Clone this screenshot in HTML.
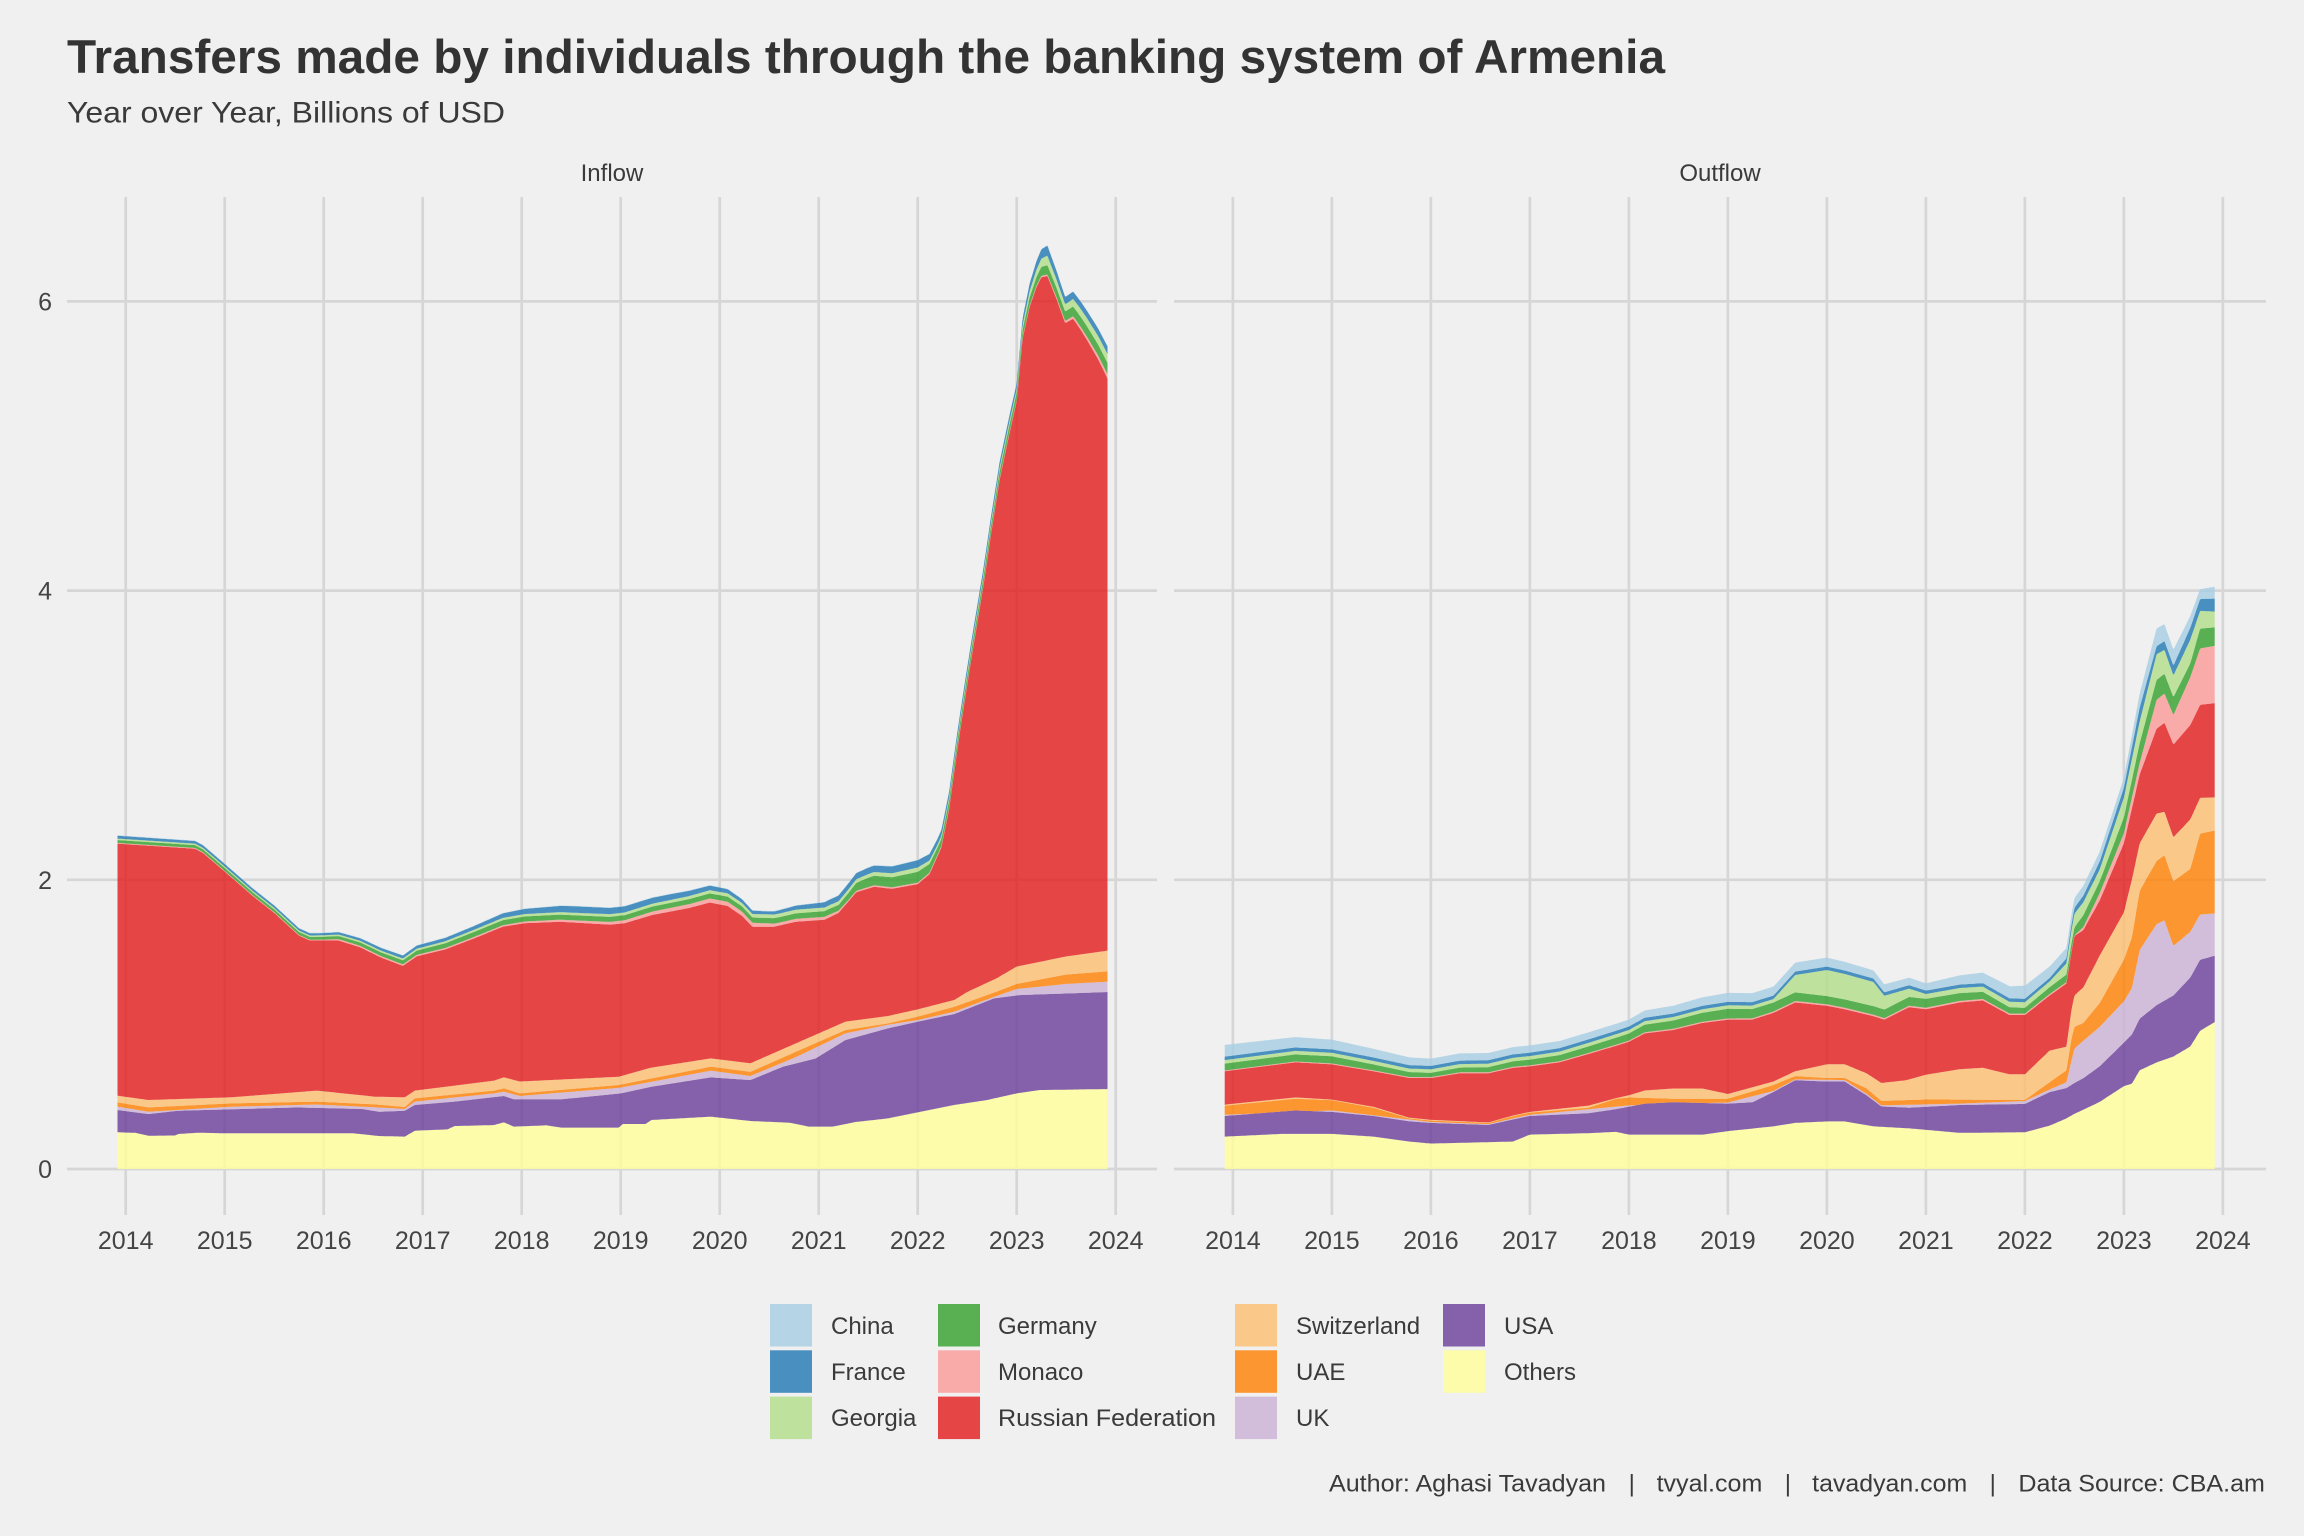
<!DOCTYPE html>
<html><head><meta charset="utf-8">
<style>html,body{margin:0;padding:0;background:#f0f0f0;}svg{display:block}</style>
</head><body>
<svg id="c" xmlns="http://www.w3.org/2000/svg" width="2304" height="1536" viewBox="0 0 2304 1536">
<rect width="2304" height="1536" fill="#f0f0f0"/>
<g stroke="#d6d6d6" stroke-width="2.7" fill="none">
<line x1="67" y1="1169" x2="1157" y2="1169"/><line x1="67" y1="879.8" x2="1157" y2="879.8"/><line x1="67" y1="590.6" x2="1157" y2="590.6"/><line x1="67" y1="301.4" x2="1157" y2="301.4"/>
<line x1="1174" y1="1169" x2="2266" y2="1169"/><line x1="1174" y1="879.8" x2="2266" y2="879.8"/><line x1="1174" y1="590.6" x2="2266" y2="590.6"/><line x1="1174" y1="301.4" x2="2266" y2="301.4"/>
<line x1="125.7" y1="197" x2="125.7" y2="1215"/><line x1="224.7" y1="197" x2="224.7" y2="1215"/><line x1="323.7" y1="197" x2="323.7" y2="1215"/><line x1="422.7" y1="197" x2="422.7" y2="1215"/><line x1="521.7" y1="197" x2="521.7" y2="1215"/><line x1="620.7" y1="197" x2="620.7" y2="1215"/><line x1="719.7" y1="197" x2="719.7" y2="1215"/><line x1="818.7" y1="197" x2="818.7" y2="1215"/><line x1="917.7" y1="197" x2="917.7" y2="1215"/><line x1="1016.7" y1="197" x2="1016.7" y2="1215"/><line x1="1115.7" y1="197" x2="1115.7" y2="1215"/>
<line x1="1232.9" y1="197" x2="1232.9" y2="1215"/><line x1="1331.9" y1="197" x2="1331.9" y2="1215"/><line x1="1430.9" y1="197" x2="1430.9" y2="1215"/><line x1="1529.9" y1="197" x2="1529.9" y2="1215"/><line x1="1628.9" y1="197" x2="1628.9" y2="1215"/><line x1="1727.9" y1="197" x2="1727.9" y2="1215"/><line x1="1826.9" y1="197" x2="1826.9" y2="1215"/><line x1="1925.9" y1="197" x2="1925.9" y2="1215"/><line x1="2024.9" y1="197" x2="2024.9" y2="1215"/><line x1="2123.9" y1="197" x2="2123.9" y2="1215"/><line x1="2222.9" y1="197" x2="2222.9" y2="1215"/>
</g>
<g id="areasL"></g>
<g id="areasR"></g>
<g font-family="Liberation Sans, Arial, sans-serif" fill="#333333">
<text x="67" y="73" font-size="47" font-weight="bold" textLength="1598" lengthAdjust="spacingAndGlyphs">Transfers made by individuals through the banking system of Armenia</text>
<text x="67" y="122.5" font-size="29.5" fill="#3a3a3a" textLength="438" lengthAdjust="spacingAndGlyphs">Year over Year, Billions of USD</text>
<text x="612" y="181" font-size="24" text-anchor="middle" fill="#3a3a3a">Inflow</text>
<text x="1720" y="181" font-size="24" text-anchor="middle" fill="#3a3a3a">Outflow</text>
<g font-size="25" text-anchor="end" fill="#444">
<text x="52" y="1178">0</text><text x="52" y="888.8">2</text><text x="52" y="599.6">4</text><text x="52" y="310.4">6</text>
</g>
<g font-size="25" text-anchor="middle" fill="#444">
<text x="125.7" y="1249">2014</text><text x="224.7" y="1249">2015</text><text x="323.7" y="1249">2016</text><text x="422.7" y="1249">2017</text><text x="521.7" y="1249">2018</text><text x="620.7" y="1249">2019</text><text x="719.7" y="1249">2020</text><text x="818.7" y="1249">2021</text><text x="917.7" y="1249">2022</text><text x="1016.7" y="1249">2023</text><text x="1115.7" y="1249">2024</text>
<text x="1232.9" y="1249">2014</text><text x="1331.9" y="1249">2015</text><text x="1430.9" y="1249">2016</text><text x="1529.9" y="1249">2017</text><text x="1628.9" y="1249">2018</text><text x="1727.9" y="1249">2019</text><text x="1826.9" y="1249">2020</text><text x="1925.9" y="1249">2021</text><text x="2024.9" y="1249">2022</text><text x="2123.9" y="1249">2023</text><text x="2222.9" y="1249">2024</text>
</g>
<g>
<rect x="770" y="1304" width="42" height="42.5" fill="#B5D5E6"/>
<rect x="770" y="1350.3" width="42" height="42.5" fill="#4990C0"/>
<rect x="770" y="1396.6" width="42" height="42.5" fill="#BEE29E"/>
<rect x="938" y="1304" width="42" height="42.5" fill="#59B053"/>
<rect x="938" y="1350.3" width="42" height="42.5" fill="#F9ABAA"/>
<rect x="938" y="1396.6" width="42" height="42.5" fill="#E64546"/>
<rect x="1235" y="1304" width="42" height="42.5" fill="#FAC989"/>
<rect x="1235" y="1350.3" width="42" height="42.5" fill="#FC9630"/>
<rect x="1235" y="1396.6" width="42" height="42.5" fill="#D2BEDB"/>
<rect x="1443" y="1304" width="42" height="42.5" fill="#8561AB"/>
<rect x="1443" y="1350.3" width="42" height="42.5" fill="#FCFCAA"/>
</g>
<g font-size="24" fill="#3a3a3a">
<text x="831" y="1334">China</text><text x="831" y="1380">France</text><text x="831" y="1426">Georgia</text>
<text x="998" y="1334">Germany</text><text x="998" y="1380">Monaco</text><text x="998" y="1426" textLength="218" lengthAdjust="spacingAndGlyphs">Russian Federation</text>
<text x="1296" y="1334">Switzerland</text><text x="1296" y="1380">UAE</text><text x="1296" y="1426">UK</text>
<text x="1504" y="1334">USA</text><text x="1504" y="1380">Others</text>
</g>
<g font-size="24" fill="#3a3a3a">
<text x="1329" y="1491.5" textLength="277" lengthAdjust="spacingAndGlyphs">Author: Aghasi Tavadyan</text>
<text x="1631.7" y="1491.5" text-anchor="middle">|</text>
<text x="1656.6" y="1491.5" textLength="105.7" lengthAdjust="spacingAndGlyphs">tvyal.com</text>
<text x="1787.9" y="1491.5" text-anchor="middle">|</text>
<text x="1812.2" y="1491.5" textLength="155" lengthAdjust="spacingAndGlyphs">tavadyan.com</text>
<text x="1992.8" y="1491.5" text-anchor="middle">|</text>
<text x="2018.4" y="1491.5" textLength="246.5" lengthAdjust="spacingAndGlyphs">Data Source: CBA.am</text>
</g>
</g>
</svg>
<script>
(function(){
var colors=['#FFFF99','#6A3D9A','#CAB2D6','#FF7F00','#FDBF6F','#E31A1C','#FB9A99','#33A02C','#B2DF8A','#1F78B4','#A6CEE3'];
function f(p,t){var n=p.length;if(t<=p[0][0])return p[0][1];if(t>=p[n-1][0])return p[n-1][1];for(var i=1;i<n;i++){if(t<=p[i][0]){var a=p[i-1],b=p[i];return a[1]+(b[1]-a[1])*(t-a[0])/(b[0]-a[0]);}}return p[n-1][1];}
function draw(gid,x0,layers){
  var ts=[];for(var i=0;i<=1000;i++)ts.push(-0.0833+i*0.01);
  var prev=ts.map(function(){return 0;});
  var g=document.getElementById(gid);
  function X(t){return (x0+t*99).toFixed(1);}
  function Y(v){return (1169-v*144.6).toFixed(1);}
  for(var k=0;k<layers.length;k++){
    var L=layers[k],top=[];
    for(i=0;i<ts.length;i++){
      var v=L.abs?Math.max(f(L.abs,ts[i]),prev[i]):prev[i]+f(L.th,ts[i]);
      top.push(v);
    }
    var d='M';
    for(i=0;i<ts.length;i++)d+=X(ts[i])+','+Y(top[i])+' ';
    for(i=ts.length-1;i>=0;i--)d+=X(ts[i])+','+Y(prev[i])+' ';
    d+='Z';
    var p=document.createElementNS('http://www.w3.org/2000/svg','path');
    p.setAttribute('d',d);p.setAttribute('fill',colors[k]);p.setAttribute('fill-opacity','0.8');
    g.appendChild(p);
    prev=top;
  }
}
var left=[
{abs:[[-0.083,0.254],[0.1,0.25],[0.23,0.23],[0.5,0.232],[0.53,0.242],[0.73,0.251],[1.0,0.247],[2.3,0.247],[2.56,0.228],[2.82,0.224],[2.92,0.265],[3.25,0.274],[3.32,0.297],[3.72,0.304],[3.82,0.323],[3.92,0.293],[4.25,0.302],[4.4,0.286],[4.98,0.286],[5.02,0.311],[5.25,0.311],[5.31,0.339],[5.91,0.362],[6.31,0.332],[6.71,0.32],[6.9,0.293],[7.14,0.293],[7.37,0.325],[7.7,0.35],[8.0,0.392],[8.37,0.443],[8.7,0.477],[9.0,0.523],[9.23,0.546],[9.917,0.553]]},
{abs:[[-0.083,0.408],[0.23,0.38],[0.53,0.403],[1.07,0.413],[1.73,0.426],[2.39,0.415],[2.56,0.396],[2.82,0.403],[2.92,0.443],[3.32,0.466],[3.82,0.505],[3.92,0.482],[4.4,0.482],[5.0,0.523],[5.31,0.569],[5.91,0.634],[6.31,0.615],[6.64,0.708],[6.97,0.765],[7.27,0.892],[7.7,0.973],[8.0,1.019],[8.37,1.072],[8.77,1.18],[9.03,1.203],[9.5,1.214],[9.917,1.224]]},
{abs:[[-0.083,0.431],[0.23,0.396],[1.07,0.431],[1.93,0.446],[2.52,0.427],[2.82,0.415],[2.92,0.466],[3.72,0.523],[3.82,0.535],[3.98,0.505],[4.98,0.561],[5.91,0.68],[6.31,0.643],[6.77,0.774],[7.27,0.938],[7.7,0.998],[8.0,1.03],[8.37,1.088],[8.77,1.19],[9.0,1.245],[9.5,1.28],[9.917,1.295]]},
{abs:[[-0.083,0.461],[0.23,0.426],[1.07,0.454],[1.93,0.466],[2.52,0.447],[2.82,0.429],[2.92,0.489],[3.72,0.542],[3.82,0.558],[3.98,0.523],[4.98,0.581],[5.91,0.708],[6.31,0.672],[6.77,0.811],[7.27,0.961],[7.7,1.007],[8.0,1.054],[8.37,1.122],[8.77,1.22],[9.0,1.28],[9.5,1.345],[9.917,1.367]]},
{abs:[[-0.083,0.507],[0.23,0.477],[1.07,0.496],[1.93,0.542],[2.52,0.50],[2.82,0.496],[2.92,0.542],[3.72,0.611],[3.82,0.634],[3.98,0.605],[4.98,0.638],[5.3,0.70],[5.91,0.765],[6.31,0.731],[6.77,0.869],[7.27,1.019],[7.7,1.058],[8.0,1.104],[8.37,1.169],[8.5,1.224],[8.8,1.32],[9.0,1.40],[9.5,1.47],[9.917,1.51]]},
{abs:[[-0.083,2.25],[0.70,2.215],[0.78,2.186],[1.00,2.057],[1.28,1.89],[1.50,1.771],[1.75,1.614],[1.86,1.58],[2.15,1.58],[2.37,1.533],[2.58,1.462],[2.80,1.405],[2.94,1.471],[3.23,1.519],[3.52,1.595],[3.81,1.676],[4.03,1.70],[4.39,1.71],[4.89,1.69],[5.04,1.70],[5.32,1.757],[5.69,1.805],[5.90,1.843],[6.08,1.819],[6.23,1.748],[6.33,1.676],[6.55,1.676],[6.77,1.71],[7.06,1.724],[7.20,1.771],[7.38,1.914],[7.56,1.952],[7.74,1.938],[8.00,1.97],[8.12,2.04],[8.24,2.225],[8.32,2.50],[8.40,2.90],[8.49,3.305],[8.57,3.645],[8.66,4.015],[8.74,4.386],[8.825,4.756],[8.91,5.034],[9.00,5.31],[9.06,5.744],[9.13,5.96],[9.20,6.10],[9.25,6.167],[9.31,6.176],[9.40,6.02],[9.49,5.85],[9.57,5.88],[9.65,5.80],[9.73,5.71],[9.83,5.59],[9.917,5.466]]},
{th:[[-0.083,0.005],[1.9,0.005],[2.2,0.01],[3.8,0.01],[4.5,0.015],[5.5,0.025],[6.2,0.03],[6.6,0.02],[7.1,0.02],[7.3,0.01],[9.3,0.01],[9.5,0.015],[9.917,0.03]]},
{th:[[-0.083,0.02],[2.0,0.02],[2.5,0.025],[3.5,0.035],[4.5,0.035],[5.9,0.035],[7.2,0.04],[7.5,0.065],[8.0,0.075],[8.2,0.05],[9.0,0.05],[9.1,0.055],[9.31,0.065],[9.49,0.065],[9.917,0.078]]},
{th:[[-0.083,0.01],[2.0,0.01],[3.5,0.015],[5.5,0.02],[6.5,0.025],[7.5,0.025],[8.0,0.03],[8.2,0.02],[9.0,0.025],[9.31,0.065],[9.49,0.05],[9.917,0.062]]},
{th:[[-0.083,0.02],[2.0,0.015],[3.5,0.025],[4.5,0.045],[5.5,0.04],[6.5,0.02],[7.2,0.04],[8.0,0.05],[8.2,0.04],[9.0,0.04],[9.31,0.07],[9.49,0.05],[9.917,0.052]]},
{th:[[-0.083,0.003],[9.917,0.003]]}
];
var right=[
{abs:[[-0.083,0.224],[0.5,0.243],[1.0,0.243],[1.42,0.224],[1.78,0.19],[2.0,0.176],[2.6,0.186],[2.83,0.19],[3.0,0.238],[3.6,0.248],[3.87,0.257],[4.0,0.238],[4.75,0.238],[5.0,0.262],[5.46,0.295],[5.68,0.319],[6.0,0.329],[6.18,0.329],[6.47,0.295],[6.83,0.281],[7.0,0.271],[7.34,0.25],[8.0,0.254],[8.25,0.30],[8.42,0.35],[8.5,0.382],[8.59,0.41],[8.755,0.464],[9.0,0.573],[9.08,0.59],[9.16,0.683],[9.33,0.737],[9.5,0.778],[9.67,0.847],[9.77,0.956],[9.917,1.016]]},
{abs:[[-0.083,0.367],[0.63,0.405],[1.0,0.395],[1.42,0.367],[1.78,0.33],[2.0,0.319],[2.58,0.305],[2.83,0.343],[3.0,0.367],[3.59,0.386],[3.87,0.414],[4.16,0.452],[4.45,0.462],[5.0,0.452],[5.25,0.462],[5.46,0.533],[5.68,0.614],[6.0,0.605],[6.18,0.605],[6.4,0.51],[6.55,0.433],[6.83,0.424],[7.34,0.443],[8.0,0.45],[8.25,0.532],[8.42,0.56],[8.5,0.595],[8.59,0.628],[8.755,0.71],[9.0,0.874],[9.08,0.93],[9.16,1.04],[9.33,1.133],[9.5,1.2],[9.67,1.324],[9.77,1.447],[9.917,1.475]]},
{abs:[[-0.083,0.375],[1.0,0.405],[2.0,0.325],[2.58,0.31],[2.83,0.35],[3.0,0.375],[4.0,0.44],[5.0,0.46],[5.46,0.54],[5.68,0.62],[6.18,0.615],[6.4,0.52],[6.55,0.44],[7.34,0.452],[8.0,0.47],[8.25,0.55],[8.42,0.60],[8.47,0.75],[8.5,0.833],[8.59,0.887],[8.755,0.983],[9.0,1.16],[9.08,1.25],[9.16,1.515],[9.33,1.693],[9.41,1.72],[9.5,1.543],[9.67,1.64],[9.77,1.76],[9.917,1.767]]},
{abs:[[-0.083,0.438],[0.63,0.486],[1.0,0.476],[1.42,0.424],[1.78,0.35],[2.0,0.335],[2.58,0.319],[2.83,0.366],[3.0,0.39],[3.59,0.424],[3.87,0.486],[4.0,0.495],[4.45,0.486],[5.0,0.486],[5.46,0.581],[5.68,0.643],[6.0,0.629],[6.18,0.629],[6.4,0.557],[6.55,0.471],[7.0,0.481],[7.34,0.48],[8.0,0.478],[8.25,0.60],[8.42,0.683],[8.47,0.90],[8.5,0.983],[8.59,1.01],[8.755,1.147],[9.0,1.447],[9.08,1.6],[9.16,1.925],[9.33,2.13],[9.41,2.17],[9.5,1.99],[9.67,2.075],[9.77,2.32],[9.917,2.34]]},
{abs:[[-0.083,0.445],[0.63,0.495],[1.0,0.48],[1.42,0.43],[1.78,0.355],[2.0,0.34],[2.58,0.322],[2.83,0.37],[3.0,0.395],[3.59,0.438],[3.87,0.49],[4.0,0.51],[4.16,0.543],[4.45,0.557],[4.74,0.557],[5.0,0.519],[5.46,0.605],[5.68,0.676],[6.0,0.724],[6.18,0.724],[6.4,0.662],[6.55,0.595],[6.8,0.614],[7.0,0.652],[7.34,0.69],[7.575,0.70],[7.845,0.655],[8.0,0.655],[8.25,0.819],[8.42,0.846],[8.47,1.1],[8.5,1.20],[8.59,1.256],[8.755,1.475],[9.0,1.775],[9.08,2.0],[9.16,2.253],[9.33,2.458],[9.41,2.47],[9.5,2.294],[9.67,2.417],[9.77,2.567],[9.917,2.57]]},
{abs:[[-0.083,0.676],[0.63,0.738],[1.0,0.724],[1.42,0.676],[1.78,0.63],[2.0,0.629],[2.29,0.662],[2.58,0.662],[2.83,0.70],[3.0,0.71],[3.3,0.738],[3.59,0.795],[3.87,0.852],[4.0,0.88],[4.16,0.938],[4.45,0.962],[4.74,1.01],[5.0,1.033],[5.245,1.033],[5.46,1.08],[5.68,1.152],[6.0,1.129],[6.18,1.105],[6.47,1.057],[6.58,1.033],[6.83,1.119],[7.0,1.105],[7.34,1.152],[7.575,1.166],[7.845,1.065],[8.0,1.065],[8.25,1.20],[8.42,1.283],[8.47,1.5],[8.5,1.611],[8.59,1.652],[8.755,1.857],[9.0,2.253],[9.16,2.73],[9.33,3.045],[9.41,3.086],[9.5,2.935],[9.67,3.07],[9.77,3.21],[9.917,3.222]]},
{th:[[-0.083,0.005],[5.0,0.008],[6.0,0.01],[8.4,0.01],[8.5,0.005],[8.755,0.05],[9.0,0.07],[9.16,0.08],[9.33,0.2],[9.5,0.205],[9.67,0.33],[9.77,0.39],[9.917,0.396]]},
{th:[[-0.083,0.048],[1.0,0.05],[2.0,0.03],[3.0,0.04],[4.0,0.05],[5.0,0.067],[6.0,0.057],[7.0,0.062],[8.0,0.04],[8.5,0.055],[8.59,0.082],[8.755,0.082],[9.0,0.109],[9.16,0.137],[9.41,0.137],[9.5,0.123],[9.67,0.096],[9.77,0.137],[9.917,0.128]]},
{th:[[-0.083,0.024],[5.46,0.024],[5.68,0.12],[6.0,0.18],[6.18,0.176],[6.47,0.167],[6.58,0.095],[6.83,0.057],[7.0,0.033],[8.25,0.04],[8.5,0.094],[8.755,0.082],[9.0,0.137],[9.16,0.15],[9.33,0.178],[9.5,0.15],[9.67,0.164],[9.77,0.123],[9.917,0.109]]},
{th:[[-0.083,0.024],[8.25,0.024],[8.5,0.041],[9.0,0.068],[9.16,0.096],[9.33,0.055],[9.5,0.068],[9.67,0.082],[9.77,0.082],[9.917,0.09]]},
{th:[[-0.083,0.081],[1.0,0.067],[2.0,0.05],[3.0,0.05],[4.0,0.048],[5.0,0.062],[6.0,0.062],[7.0,0.05],[8.0,0.09],[8.5,0.068],[9.0,0.068],[9.16,0.096],[9.33,0.123],[9.5,0.11],[9.67,0.082],[9.77,0.068],[9.917,0.082]]}
];
draw('areasL',125.7,left);
draw('areasR',1232.9,right);
})();
</script>
</body></html>
